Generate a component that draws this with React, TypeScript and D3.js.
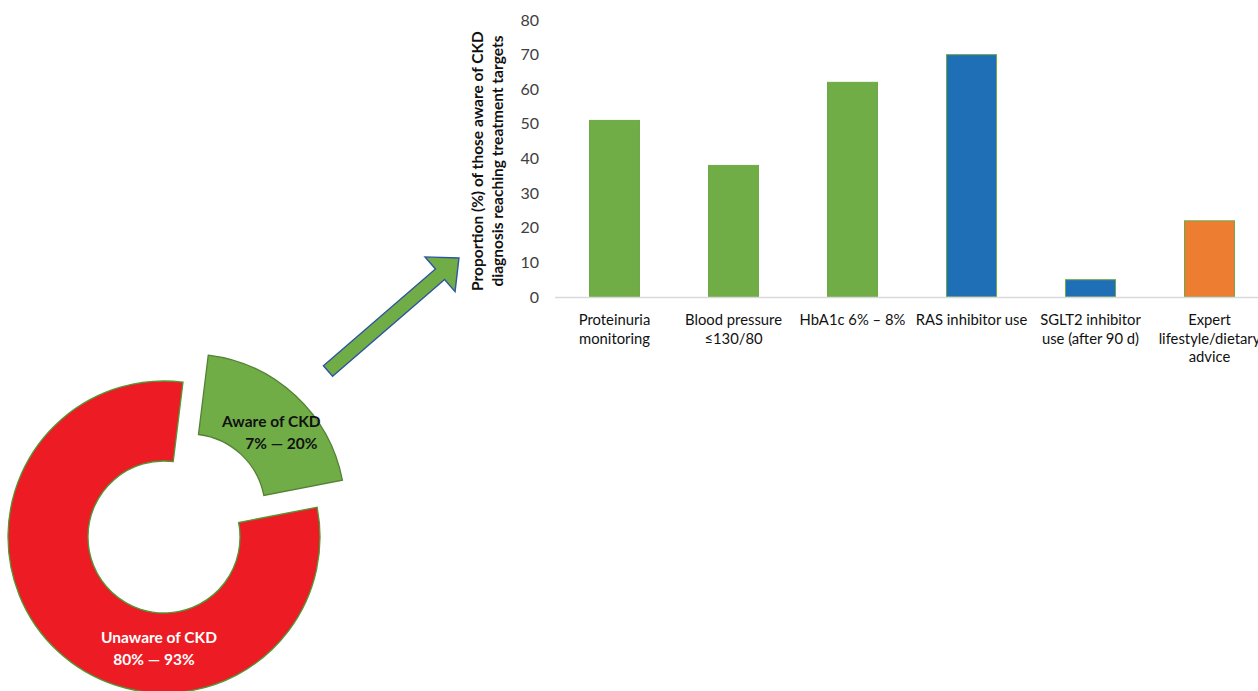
import React from "react";
import * as d3 from "d3";

// ---- Bar chart data ----
const categories: string[][] = [
  ["Proteinuria", "monitoring"],
  ["Blood pressure", "≤130/80"],
  ["HbA1c 6% – 8%"],
  ["RAS inhibitor use"],
  ["SGLT2 inhibitor", "use (after 90 d)"],
  ["Expert", "lifestyle/dietary", "advice"],
];
const values: number[] = [51, 38, 62, 70, 5, 22];
const targetType: string[] = ["Control", "Control", "Control", "Medication", "Medication", "Lifestyle"];
const yTicks: number[] = [0, 10, 20, 30, 40, 50, 60, 70, 80];
const yTitle: string[] = ["Proportion (%) of those aware of CKD", "diagnosis reaching treatment targets"];

// ---- Donut data ----
const donutLabels: string[] = ["Aware of CKD", "Unaware of CKD"];
const donutRanges: string[] = ["7% — 20%", "80% — 93%"];
const donutValues: number[] = [20, 80];

const W = 1258;
const H = 691;
const FONT = "Lato, 'Open Sans', sans-serif";

export default function App() {
  // bar chart scales
  const x = d3.scaleBand<number>().domain(d3.range(values.length)).range([555, 1269]).paddingInner(0.58).paddingOuter(0.29);
  const y = d3.scaleLinear().domain([0, 80]).range([297, 20]);
  const color = d3.scaleOrdinal<string, string>().domain(["Control", "Medication", "Lifestyle"]).range(["#70AD47", "#1F6FB6", "#ED7D31"]);

  // donut
  const cx = 164, cy = 537, rOuter = 156, rInner = 76;
  const pie = d3.pie<number>().sort(null).startAngle((7 * Math.PI) / 180).endAngle((7 * Math.PI) / 180 + 2 * Math.PI);
  const arcs = pie(donutValues);
  const arcGen = d3.arc<d3.PieArcDatum<number>>().innerRadius(rInner).outerRadius(rOuter);
  const explode = 37;

  // arrow (annotation)
  const L = 173, sw = 7, hw = 23, hl = 25;
  const arrowPts: [number, number][] = [[0, -sw], [L - hl, -sw], [L - hl, -hw], [L, 0], [L - hl, hw], [L - hl, sw], [0, sw]];
  const arrowPath = d3.line()(arrowPts) + "Z";

  return (
    <div style={{ position: "absolute", left: 0, top: 0 }}>
      <svg width={W} height={H} style={{ display: "block", background: "#fff" }} fontFamily={FONT}>
        {/* Donut */}
        <g transform={`translate(${cx},${cy})`}>
          {arcs.map((a, i) => {
            const mid = (a.startAngle + a.endAngle) / 2;
            const off = i === 0 ? explode : 0;
            const dx = off * Math.sin(mid);
            const dy = -off * Math.cos(mid);
            return (
              <path
                key={i}
                d={arcGen(a) || ""}
                transform={`translate(${dx},${dy})`}
                fill={i === 0 ? "#70AD47" : "#ED1C24"}
                stroke={i === 0 ? "#548235" : "#4E9A36"}
                strokeWidth={1.3}
              />
            );
          })}
          {(() => {
            const a = arcs[0];
            const mid = (a.startAngle + a.endAngle) / 2;
            const [mx, my] = arcGen.centroid(a);
            const px = mx + explode * Math.sin(mid);
            const py = my - explode * Math.cos(mid);
            return (
              <g fontWeight={700} fontSize={15.5} fill="#111" textAnchor="middle">
                <text x={px + 3} y={py + 2}>{donutLabels[0]}</text>
                <text x={px + 13} y={py + 24}>{donutRanges[0]}</text>
              </g>
            );
          })()}
          <g fontWeight={700} fontSize={15.5} fill="#fff" textAnchor="middle">
            <text x={-5} y={106}>{donutLabels[1]}</text>
            <text x={-10} y={128}>{donutRanges[1]}</text>
          </g>
        </g>

        {/* Arrow */}
        <path d={arrowPath} transform="translate(328,371) rotate(-40.8)" fill="#70AD47" stroke="#2F55A0" strokeWidth={1.4} strokeLinejoin="miter" />

        {/* Y axis title */}
        <g fontWeight={700} fontSize={15.5} fill="#111" textAnchor="middle">
          {yTitle.map((t, i) => (
            <text key={i} transform={`translate(${483 + i * 20},161) rotate(-90)`}>{t}</text>
          ))}
        </g>

        {/* Y ticks */}
        <g fontSize={16} fill="#404040" textAnchor="end">
          {yTicks.map((t) => (
            <text key={t} x={539} y={y(t)} dy="0.35em">{t}</text>
          ))}
        </g>

        {/* Bars */}
        {values.map((v, i) => (
          <rect
            key={i}
            x={x(i)}
            y={y(v)}
            width={x.bandwidth()}
            height={y(0) - y(v)}
            fill={color(targetType[i])}
            stroke="#6FA84A"
            strokeWidth={1}
          />
        ))}

        {/* X axis line */}
        <line x1={555} x2={W} y1={y(0) + 0.5} y2={y(0) + 0.5} stroke="#D9D9D9" strokeWidth={1.5} />

        {/* Category labels */}
        <g fontSize={14.8} fill="#111" textAnchor="middle">
          {categories.map((lines, i) => (
            <text key={i} x={(x(i) || 0) + x.bandwidth() / 2} y={325}>
              {lines.map((l, j) => (
                <tspan key={j} x={(x(i) || 0) + x.bandwidth() / 2} dy={j === 0 ? 0 : 18.5}>{l}</tspan>
              ))}
            </text>
          ))}
        </g>
      </svg>
    </div>
  );
}
